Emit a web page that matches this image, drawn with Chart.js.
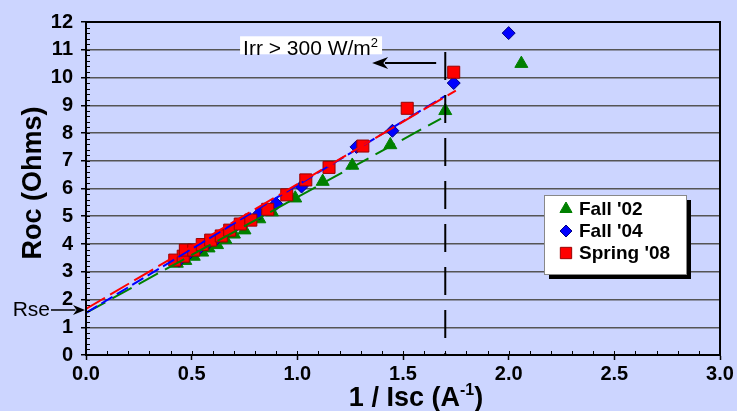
<!DOCTYPE html>
<html>
<head>
<meta charset="utf-8">
<script src="https://cdn.jsdelivr.net/npm/chart.js@4.4.1/dist/chart.umd.min.js"></script>
<style>
  html, body { margin: 0; padding: 0; background: #CCD5FF; }
  #wrap { width: 737px; height: 411px; }
</style>
</head>
<body>
<div id="wrap"><canvas id="chartRoc" width="737" height="411"></canvas></div>
<script>
// measured points, 1/Isc (A^-1) vs Roc (Ohms)
var fall02X = [0.43, 0.47, 0.51, 0.55, 0.58, 0.62, 0.66, 0.70, 0.75, 0.82, 0.88, 0.99, 1.12, 1.26, 1.44, 1.70, 2.06];
var fall02Y = [3.30, 3.40, 3.55, 3.70, 3.85, 3.97, 4.15, 4.35, 4.50, 4.90, 5.15, 5.65, 6.25, 6.83, 7.57, 8.80, 10.50];
var fall04X = [0.44, 0.48, 0.53, 0.57, 0.62, 0.66, 0.70, 0.76, 0.82, 0.90, 1.02, 1.28, 1.45, 1.74, 2.00];
var fall04Y = [3.40, 3.60, 3.80, 3.98, 4.20, 4.40, 4.60, 4.85, 5.10, 5.45, 6.07, 7.50, 8.08, 9.80, 11.60];
var spring08X = [0.42, 0.46, 0.47, 0.51, 0.55, 0.59, 0.64, 0.68, 0.73, 0.78, 0.86, 0.95, 1.04, 1.15, 1.31, 1.52, 1.74];
var spring08Y = [3.42, 3.56, 3.78, 3.78, 3.98, 4.14, 4.29, 4.50, 4.72, 4.86, 5.25, 5.77, 6.31, 6.76, 7.53, 8.89, 10.19];

// linear fits (end points)
var fit02X = [0, 1.68], fit02Y = [1.52, 8.52];
var fit04X = [0, 1.70], fit04Y = [1.52, 9.34];
var fit08X = [0, 1.75], fit08Y = [1.66, 9.53];

var xTicks = [0, 0.5, 1.0, 1.5, 2.0, 2.5, 3.0];
var yTicks = [0, 1, 2, 3, 4, 5, 6, 7, 8, 9, 10, 11, 12];

var irrCut = 1.70;   // vertical marker
var rse = 1.55;      // intercept

function pts(xs, ys) {
    return xs.map(function (x, i) { return { x: x, y: ys[i] }; });
}

var FONT = "'Liberation Sans', Arial, sans-serif";

function arrow(ctx, x1, y1, x2, y2, head, half) {
    var dir = x2 > x1 ? 1 : -1;
    ctx.beginPath();
    ctx.moveTo(x1, y1);
    ctx.lineTo(x2 - dir * head * 0.8, y2);
    ctx.stroke();
    ctx.beginPath();
    ctx.moveTo(x2, y2);
    ctx.lineTo(x2 - dir * head, y2 - half);
    ctx.lineTo(x2 - dir * head * 0.7, y2);
    ctx.lineTo(x2 - dir * head, y2 + half);
    ctx.closePath();
    ctx.fill();
}

const extras = {
    id: "extras",
    afterDraw(chart) {
        const ctx = chart.ctx;
        const xs = chart.scales.x, ys = chart.scales.y;
        const area = chart.chartArea;
        ctx.save();

        // minor ticks (inside)
        ctx.strokeStyle = "#000";
        ctx.lineWidth = 1;
        for (let i = 1; i < 30; i++) {
            const px = Math.round(xs.getPixelForValue(i / 10)) + 0.5;
            ctx.beginPath();
            ctx.moveTo(px, area.bottom);
            ctx.lineTo(px, area.bottom - 4);
            ctx.stroke();
        }
        for (let i = 1; i < 60; i++) {
            const py = Math.round(ys.getPixelForValue(i / 5)) + 0.5;
            ctx.beginPath();
            ctx.moveTo(area.left, py);
            ctx.lineTo(area.left + 4, py);
            ctx.stroke();
        }

        // frame
        ctx.lineWidth = 2;
        ctx.strokeRect(area.left, area.top, area.right - area.left, area.bottom - area.top);

        // vertical dashed marker
        const vx = xs.getPixelForValue(irrCut);
        ctx.setLineDash([28, 15]);
        ctx.lineWidth = 2;
        ctx.beginPath();
        ctx.moveTo(vx, ys.getPixelForValue(10.92));
        ctx.lineTo(vx, area.bottom);
        ctx.stroke();
        ctx.setLineDash([]);

        // Irr label
        ctx.font = "21px " + FONT;
        const main = "Irr > 300 W/m";
        const wMain = ctx.measureText(main).width;
        ctx.font = "13px " + FONT;
        const wSup = ctx.measureText("2").width;
        const right = xs.getPixelForValue(1.382);
        const left = right - wMain - wSup;
        const base = ys.getPixelForValue(10.8);
        ctx.fillStyle = "#fff";
        ctx.fillRect(left - 3, base - 19, wMain + wSup + 7, 18);
        ctx.fillStyle = "#000";
        ctx.textBaseline = "alphabetic";
        ctx.textAlign = "left";
        ctx.font = "21px " + FONT;
        ctx.fillText(main, left, base);
        ctx.font = "13px " + FONT;
        ctx.fillText("2", left + wMain, base - 8);

        // left arrow
        ctx.lineWidth = 2;
        const ay = ys.getPixelForValue(10.52);
        arrow(ctx, xs.getPixelForValue(1.657), ay, xs.getPixelForValue(1.354), ay, 16, 6);

        // Rse
        const ry = ys.getPixelForValue(rse);
        ctx.font = "21px " + FONT;
        ctx.textAlign = "right";
        ctx.fillText("Rse", 50, ry + 4);
        ctx.lineWidth = 1.5;
        arrow(ctx, 51, ry - 2, area.left - 1, ry - 2, 12, 5);

        // axis titles
        ctx.font = "bold 27px " + FONT;
        ctx.textAlign = "center";
        ctx.save();
        ctx.translate(41, 183);
        ctx.rotate(-Math.PI / 2);
        ctx.fillText("Roc (Ohms)", 0, 0);
        ctx.restore();

        const t1 = "1 / Isc (A", t2 = "-1", t3 = ")";
        ctx.font = "bold 27px " + FONT;
        const w1 = ctx.measureText(t1).width, w3 = ctx.measureText(t3).width;
        ctx.font = "bold 16px " + FONT;
        const w2 = ctx.measureText(t2).width;
        let tx = 416 - (w1 + w2 + w3) / 2;
        ctx.textAlign = "left";
        ctx.font = "bold 27px " + FONT;
        ctx.fillText(t1, tx, 406);
        ctx.font = "bold 16px " + FONT;
        ctx.fillText(t2, tx + w1, 395);
        ctx.font = "bold 27px " + FONT;
        ctx.fillText(t3, tx + w1 + w2, 406);

        // legend box with shadow
        const lx = 544, ly = 195, lw = 142, lh = 79;
        ctx.fillStyle = "#000";
        ctx.fillRect(lx + 5, ly + 5, lw, lh);
        ctx.fillStyle = "#fff";
        ctx.fillRect(lx, ly, lw, lh);
        ctx.strokeStyle = "#888";
        ctx.lineWidth = 1;
        ctx.strokeRect(lx + 0.5, ly + 0.5, lw, lh);
        const items = [chart.data.datasets[5], chart.data.datasets[4], chart.data.datasets[3]];
        const rows = [209, 231, 253];
        ctx.font = "bold 19px " + FONT;
        ctx.textBaseline = "middle";
        items.forEach(function (ds, i) {
            ctx.fillStyle = ds.backgroundColor;
            ctx.strokeStyle = ds.borderColor;
            ctx.lineWidth = ds.borderWidth;
            Chart.helpers.drawPoint(ctx, { pointStyle: ds.pointStyle, radius: ds.pointRadius - 0.5, borderWidth: ds.borderWidth, rotation: 0 }, 566, rows[i]);
            ctx.fillStyle = "#000";
            ctx.fillText(ds.label, 579, rows[i] + 1);
        });

        ctx.restore();
    }
};

const ctx = document.getElementById("chartRoc");
new Chart(ctx, {
    type: "scatter",
    data: {
        datasets: [
            { label: "fit08", data: pts(fit08X, fit08Y), showLine: true, borderColor: "#FF0000", borderWidth: 2, borderDash: [22, 6], pointRadius: 0, order: 0 },
            { label: "fit04", data: pts(fit04X, fit04Y), showLine: true, borderColor: "#0000FF", borderWidth: 2, borderDash: [13, 5], pointRadius: 0, order: 1 },
            { label: "fit02", data: pts(fit02X, fit02Y), showLine: true, borderColor: "#008000", borderWidth: 2, borderDash: [22, 8], pointRadius: 0, order: 2 },
            { label: "Spring '08", data: pts(spring08X, spring08Y), pointStyle: "rect", pointRadius: 8.5, backgroundColor: "#FF0000", borderColor: "#990000", borderWidth: 1, order: 3 },
            { label: "Fall '04", data: pts(fall04X, fall04Y), pointStyle: "rectRot", pointRadius: 6.5, backgroundColor: "#0000FF", borderColor: "#000080", borderWidth: 1, order: 4 },
            { label: "Fall '02", data: pts(fall02X, fall02Y), pointStyle: "triangle", pointRadius: 7.5, backgroundColor: "#008000", borderColor: "#008000", borderWidth: 1, order: 5 },
        ],
    },
    options: {
        responsive: false,
        animation: false,
        layout: { padding: { left: 0, right: 17, top: 22, bottom: 0 } },
        plugins: {
            legend: { display: false },
            tooltip: { enabled: false },
        },
        scales: {
            x: {
                type: "linear",
                min: 0,
                max: 3,
                afterFit: function (s) { s.height = 56; },
                afterBuildTicks: function (s) { s.ticks = xTicks.map(function (v) { return { value: v }; }); },
                ticks: {
                    callback: function (v) { return v.toFixed(1); },
                    font: { size: 20, weight: "bold", family: FONT },
                    color: "#000",
                    padding: 2,
                    maxRotation: 0,
                },
                grid: { drawOnChartArea: false, tickLength: 5, tickColor: "#000", tickWidth: 1.5 },
                border: { color: "#000", width: 2 },
            },
            y: {
                min: 0,
                max: 12,
                afterFit: function (s) { s.width = 86; },
                afterBuildTicks: function (s) { s.ticks = yTicks.map(function (v) { return { value: v }; }); },
                ticks: {
                    font: { size: 20, weight: "bold", family: FONT },
                    color: "#000",
                    padding: 8,
                },
                grid: { color: "#555", lineWidth: 1.5, tickLength: 5, tickColor: "#000", tickWidth: 1.5 },
                border: { color: "#000", width: 2 },
            },
        },
    },
    plugins: [extras],
});
</script>
</body>
</html>
